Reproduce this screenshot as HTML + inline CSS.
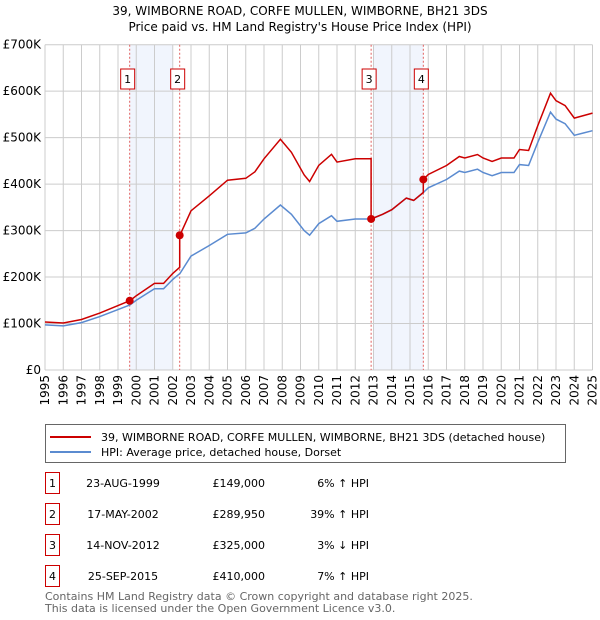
<!DOCTYPE html>
<html><head><meta charset="utf-8"><style>
body{margin:0;background:#fff;font-family:"Liberation Sans","DejaVu Sans",sans-serif;}
#wrap{position:relative;width:600px;height:620px;overflow:hidden}
svg text{font-family:"DejaVu Sans","Liberation Sans",sans-serif}
</style></head><body><div id="wrap">
<svg id="chart" width="600" height="620"></svg>
</div>
<script>
const hpiYears=[1995,1996,1997,1998,1999,1999.65,2000,2001,2001.5,2002,2002.4,2003,2004,2005,2006,2006.5,2007,2007.9,2008.5,2009.2,2009.5,2010,2010.7,2011,2012,2012.87,2013.5,2014,2014.8,2015.2,2015.73,2016,2017,2017.7,2018,2018.7,2019,2019.5,2020,2020.7,2021,2021.5,2022,2022.7,2023,2023.5,2024,2024.5,2025];
const hpiValues=[97,95,102,115,130,140,150,175,175,195,208,245,268,292,295,305,325,355,335,300,290,315,332,320,325,325,335,345,370,365,382,392,410,428,425,432,425,418,425,425,442,440,490,555,540,530,505,510,515];
const saleLabels=["1","2","3","4"];
const saleYears=[1999.64,2002.38,2012.87,2015.73];
const salePrices=[149,289.95,325,410];
const saleDates=["23-AUG-1999","17-MAY-2002","14-NOV-2012","25-SEP-2015"];
const salePriceText=["£149,000","£289,950","£325,000","£410,000"];
const saleDiffText=["6% ↑ HPI","39% ↑ HPI","3% ↓ HPI","7% ↑ HPI"];
const yTicks=[0,100,200,300,400,500,600,700];
const yTickLabels=["£0","£100K","£200K","£300K","£400K","£500K","£600K","£700K"];
const xTicks=[];for(let y=1995;y<=2025;y++)xTicks.push(y);

const svg=document.getElementById('chart');const NS='http://www.w3.org/2000/svg';
const X0=45,X1=592.5,Y0=370,Y1=44.7;
const xs=y=>X0+(y-1995)/30*(X1-X0);
const ys=v=>Y0-v/700*(Y0-Y1);
function mk(t,a,p){const e=document.createElementNS(NS,t);for(const k in a)e.setAttribute(k,a[k]);(p||svg).appendChild(e);return e;}
function hpiAt(t){for(let i=0;i<hpiYears.length-1;i++){if(t<=hpiYears[i+1]){const f=(t-hpiYears[i])/(hpiYears[i+1]-hpiYears[i]);return hpiValues[i]+f*(hpiValues[i+1]-hpiValues[i]);}}return hpiValues[hpiValues.length-1];}

let t=mk('text',{x:300,y:15,'text-anchor':'middle','font-size':12,fill:'#000'});t.textContent='39, WIMBORNE ROAD, CORFE MULLEN, WIMBORNE, BH21 3DS';

t=mk('text',{x:300,y:31,'text-anchor':'middle','font-size':12,fill:'#000'});t.textContent="Price paid vs. HM Land Registry's House Price Index (HPI)";


let sh=mk('rect',{x:xs(saleYears[0]),y:Y1,width:xs(2002)-xs(saleYears[0]),height:Y0-Y1,fill:'#eef3fc',opacity:0.8});

sh=mk('rect',{x:xs(2013),y:Y1,width:xs(saleYears[3])-xs(2013),height:Y0-Y1,fill:'#eef3fc',opacity:0.8});


yTicks.forEach((v,i)=>{const l=mk('line',{x1:X0,x2:X1,y1:ys(v),y2:ys(v),stroke:'#cccccc','stroke-width':1});

const tx=mk('text',{x:X0-4,y:ys(v)+4,'text-anchor':'end','font-size':12,fill:'#000'});tx.textContent=yTickLabels[i];
});
xTicks.forEach(y=>{const l=mk('line',{x1:xs(y),x2:xs(y),y1:Y1,y2:Y0,stroke:'#cccccc','stroke-width':1});

const tx=mk('text',{x:0,y:0,'text-anchor':'end','font-size':12,fill:'#000',transform:`translate(${xs(y)+4},${Y0+5}) rotate(-90)`});tx.textContent=y;
});

saleYears.forEach((y,i)=>{const l=mk('line',{x1:xs(y),x2:xs(y),y1:Y1,y2:Y0,stroke:'#e06060','stroke-width':1,'stroke-dasharray':'2,2'});

const bx=xs(y)-9;
const r=mk('rect',{x:bx,y:69,width:14,height:20,fill:'#fff',stroke:'#c00','stroke-width':1});

const tx=mk('text',{x:bx+7,y:83,'text-anchor':'middle','font-size':11,fill:'#000'});tx.textContent=saleLabels[i];
});

let d=hpiYears.map((y,i)=>(i?'L':'M')+xs(y).toFixed(1)+','+ys(hpiValues[i]).toFixed(1)).join(' ');
let p=mk('path',{d:d,fill:'none',stroke:'#5b8bd0','stroke-width':1.5});


function factorAt(y){let k=0;for(let i=0;i<saleYears.length;i++)if(y>=saleYears[i])k=i;return salePrices[k]/hpiAt(saleYears[k]);}
let pts=[];
for(let i=0;i<hpiYears.length;i++){pts.push([hpiYears[i],hpiValues[i]*factorAt(hpiYears[i])]);}
saleYears.forEach((y,i)=>{if(i>0)pts.push([y-0.0001,hpiAt(y)*salePrices[i-1]/hpiAt(saleYears[i-1])]);pts.push([y,salePrices[i]]);});
pts.sort((a,b)=>a[0]-b[0]);
d=pts.map((q,i)=>(i?'L':'M')+xs(q[0]).toFixed(1)+','+ys(q[1]).toFixed(1)).join(' ');
p=mk('path',{d:d,fill:'none',stroke:'#cc0000','stroke-width':1.5});

saleYears.forEach((y,i)=>{const c=mk('circle',{cx:xs(y),cy:ys(salePrices[i]),r:4,fill:'#cc0000'});
});

const lg=mk('rect',{x:45.5,y:424.5,width:520,height:38,fill:'#fff',stroke:'#666'});

let ll=mk('line',{x1:50,x2:91,y1:437,y2:437,stroke:'#cc0000','stroke-width':2});

let lt=mk('text',{x:101,y:441,'font-size':11,fill:'#000'});lt.textContent='39, WIMBORNE ROAD, CORFE MULLEN, WIMBORNE, BH21 3DS (detached house)';

ll=mk('line',{x1:50,x2:91,y1:452,y2:452,stroke:'#5b8bd0','stroke-width':2});

lt=mk('text',{x:101,y:456,'font-size':11,fill:'#000'});lt.textContent='HPI: Average price, detached house, Dorset';


saleLabels.forEach((s,i)=>{const cy=483+i*31;
const b=mk('rect',{x:45.5,y:cy-10.5,width:14,height:21,fill:'#fff',stroke:'#cc0000'});

let e=mk('text',{x:52.5,y:cy+4,'text-anchor':'middle','font-size':11,fill:'#000'});e.textContent=s;

e=mk('text',{x:123,y:cy+4,'text-anchor':'middle','font-size':11,fill:'#000'});e.textContent=saleDates[i];

e=mk('text',{x:265,y:cy+4,'text-anchor':'end','font-size':11,fill:'#000'});e.textContent=salePriceText[i];

e=mk('text',{x:369,y:cy+4,'text-anchor':'end','font-size':11,fill:'#000'});e.textContent=saleDiffText[i];
});

let f=mk('text',{x:45,y:600,'font-size':11,fill:'#666'});f.textContent='Contains HM Land Registry data © Crown copyright and database right 2025.';

f=mk('text',{x:45,y:612,'font-size':11,fill:'#666'});f.textContent='This data is licensed under the Open Government Licence v3.0.';

</script></body></html>
